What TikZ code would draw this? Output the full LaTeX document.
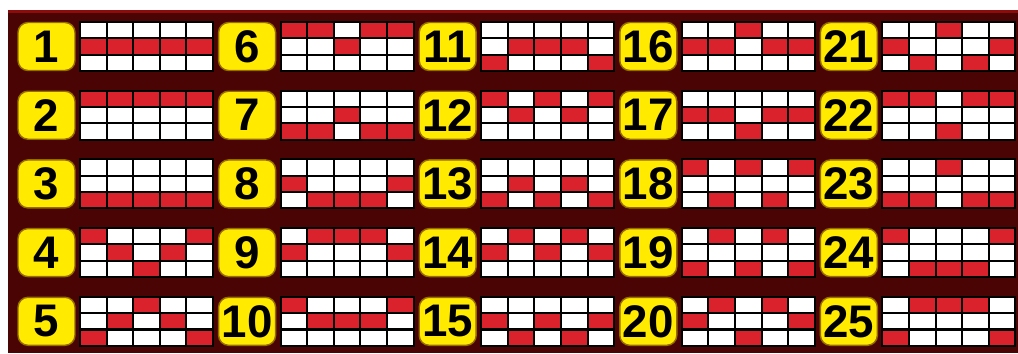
\documentclass[tikz,border=0pt]{standalone}
\usepackage{fontspec}
\setmainfont{Liberation Sans}

\definecolor{lineRed}{RGB}{218,34,44}
\definecolor{badgeYellow}{RGB}{255,234,0}
\definecolor{badgeEdge}{RGB}{150,110,0}
\definecolor{bgRed}{RGB}{75,4,4}
\definecolor{bgTop}{RGB}{140,12,12}

\begin{document}
\begin{tikzpicture}[x=0.02cm,y=-0.02cm,
    badge/.style={draw=badgeEdge,line width=0.8pt,fill=badgeYellow,
        rounded corners=0.2cm,minimum width=1.14cm,minimum height=0.96cm,
        inner sep=0pt,font=\fontsize{26}{26}\selectfont\bfseries},
    cell/.style={draw=black,line width=1.2pt}]

\useasboundingbox (0,0) rectangle (1018,353);

% Background
\fill[bgRed] (8,10) rectangle (1018,353);
\fill[bgTop] (8,10) rectangle (1018,13);

% Paylines: number / red row in each of the five reels
\foreach \n/\pa/\pb/\pc/\pd/\pe in {
    1/2/2/2/2/2, 2/1/1/1/1/1, 3/3/3/3/3/3, 4/1/2/3/2/1, 5/3/2/1/2/3,
    6/1/1/2/1/1, 7/3/3/2/3/3, 8/2/3/3/3/2, 9/2/1/1/1/2, 10/1/2/2/2/1,
    11/3/2/2/2/3, 12/1/2/1/2/1, 13/3/2/3/2/3, 14/2/1/2/1/2, 15/2/3/2/3/2,
    16/2/2/1/2/2, 17/2/2/3/2/2, 18/1/3/1/3/1, 19/3/1/3/1/3, 20/2/1/3/1/2,
    21/2/3/1/3/2, 22/1/1/3/1/1, 23/3/3/1/3/3, 24/1/3/3/3/1, 25/3/1/1/1/3}{
    \pgfmathtruncatemacro\col{int((\n-1)/5)}
    \pgfmathtruncatemacro\row{mod(\n-1,5)}
    \pgfmathsetmacro\gx{80+200.6*\col}
    \pgfmathsetmacro\gy{22+68.7*\row}
    \node[badge] (b\n) at (\gx-33.5,\gy+24.5) {\n};
    \foreach \k/\p in {0/\pa,1/\pb,2/\pc,3/\pd,4/\pe}{
        \foreach \j in {1,2,3}{
            \ifnum\j=\p \def\cellcol{lineRed}\else\def\cellcol{white}\fi
            \draw[cell,fill=\cellcol]
                (\gx+26.6*\k,\gy+16.33*\j-16.33) rectangle ++(26.6,16.33);
        }
    }
}

\end{tikzpicture}
\end{document}
